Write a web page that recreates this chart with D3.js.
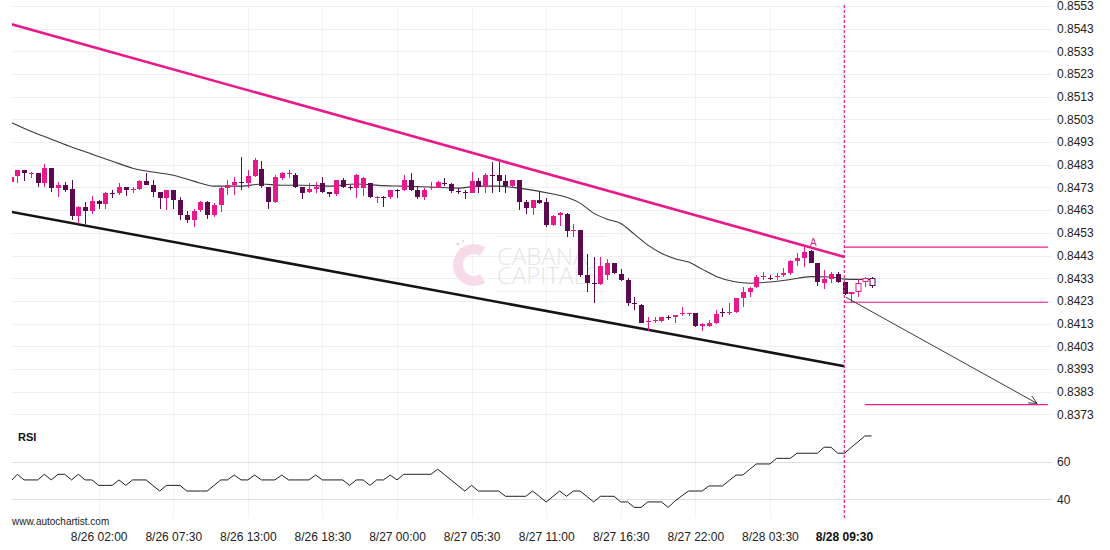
<!DOCTYPE html>
<html><head><meta charset="utf-8">
<script src="https://cdn.jsdelivr.net/npm/d3@7"></script>
<style>
body{margin:0;background:#fff}
svg{display:block}
text{font-family:"Liberation Sans",Arial,sans-serif}
.wm{font-family:"Open Sans",sans-serif;font-weight:300;font-size:24px;line-height:19px;color:#e6e6e6;margin:0;padding:0;white-space:pre-line}
</style>
</head><body>
<svg id="chart" width="1110" height="550"></svg>
<script>
// ---------------- DATA ----------------
// 30-minute candles, index -1 .. 126 (index 122 = 8/28 09:30, the signal bar)
const firstIndex = -1;
const opens = [0.84755,0.84781,0.84806,0.84789,0.84792,0.84750,0.84815,0.84728,0.84740,0.84723,
0.84604,0.84642,0.84627,0.84670,0.84655,0.84706,0.84704,0.84733,0.84718,0.84724,
0.84758,0.84740,0.84711,0.84684,0.84718,0.84674,0.84608,0.84586,0.84630,0.84667,
0.84608,0.84652,0.84728,0.84740,0.84755,0.84750,0.84780,0.84811,0.84733,0.84664,
0.84772,0.84789,0.84784,0.84730,0.84708,0.84723,0.84750,0.84711,0.84701,0.84762,
0.84733,0.84728,0.84726,0.84748,0.84684,0.84689,0.84686,0.84720,0.84718,0.84765,
0.84718,0.84689,0.84727,0.84728,0.84751,0.84745,0.84716,0.84709,0.84704,0.84758,
0.84730,0.84786,0.84784,0.84758,0.84736,0.84762,0.84667,0.84640,0.84674,0.84664,
0.84564,0.84608,0.84612,0.84537,0.84542,0.84344,0.84308,0.84303,0.84344,0.84395,
0.84348,0.84322,0.84220,0.84212,0.84135,0.84141,0.84142,0.84159,0.84157,0.84172,
0.84172,0.84175,0.84121,0.84120,0.84131,0.84181,0.84175,0.84182,0.84241,0.84270,
0.84292,0.84335,0.84333,0.84335,0.84344,0.84351,0.84407,0.84417,0.84451,0.84398,
0.84310,0.84325,0.84348,0.84314,0.84259,0.84270,0.84312,0.84332];
const highs = [0.84784,0.84806,0.84806,0.84799,0.84792,0.84833,0.84815,0.84752,0.84752,0.84765,
0.84648,0.84664,0.84692,0.84674,0.84711,0.84718,0.84750,0.84733,0.84733,0.84765,
0.84792,0.84765,0.84711,0.84721,0.84721,0.84689,0.84627,0.84637,0.84671,0.84670,
0.84660,0.84733,0.84762,0.84777,0.84865,0.84809,0.84858,0.84846,0.84733,0.84787,
0.84799,0.84809,0.84794,0.84733,0.84750,0.84755,0.84777,0.84711,0.84762,0.84770,
0.84740,0.84789,0.84774,0.84750,0.84692,0.84692,0.84721,0.84723,0.84784,0.84792,
0.84737,0.84726,0.84755,0.84758,0.84770,0.84750,0.84726,0.84721,0.84796,0.84770,
0.84792,0.84843,0.84843,0.84784,0.84765,0.84765,0.84674,0.84674,0.84708,0.84682,
0.84608,0.84620,0.84618,0.84571,0.84542,0.84435,0.84424,0.84424,0.84413,0.84395,
0.84369,0.84329,0.84248,0.84216,0.84157,0.84157,0.84160,0.84167,0.84167,0.84204,
0.84178,0.84176,0.84131,0.84145,0.84189,0.84197,0.84222,0.84241,0.84292,0.84292,
0.84344,0.84358,0.84344,0.84351,0.84373,0.84410,0.84439,0.84468,0.84454,0.84398,
0.84366,0.84358,0.84358,0.84314,0.84270,0.84325,0.84336,0.84336];
const lows = [0.84749,0.84749,0.84758,0.84770,0.84730,0.84730,0.84711,0.84686,0.84711,0.84586,
0.84568,0.84568,0.84615,0.84633,0.84633,0.84682,0.84696,0.84693,0.84704,0.84718,
0.84740,0.84689,0.84637,0.84630,0.84633,0.84586,0.84574,0.84556,0.84623,0.84589,
0.84598,0.84623,0.84696,0.84696,0.84721,0.84726,0.84777,0.84726,0.84634,0.84660,
0.84762,0.84772,0.84726,0.84677,0.84704,0.84706,0.84704,0.84686,0.84692,0.84728,
0.84718,0.84682,0.84692,0.84682,0.84662,0.84642,0.84677,0.84682,0.84715,0.84715,
0.84677,0.84674,0.84721,0.84726,0.84736,0.84706,0.84699,0.84677,0.84704,0.84706,
0.84704,0.84704,0.84711,0.84704,0.84733,0.84630,0.84612,0.84608,0.84655,0.84556,
0.84560,0.84560,0.84510,0.84510,0.84336,0.84270,0.84222,0.84300,0.84322,0.84348,
0.84318,0.84207,0.84189,0.84131,0.84098,0.84131,0.84138,0.84145,0.84131,0.84163,
0.84163,0.84116,0.84098,0.84116,0.84128,0.84157,0.84167,0.84175,0.84204,0.84248,
0.84289,0.84322,0.84322,0.84322,0.84336,0.84344,0.84383,0.84380,0.84395,0.84295,
0.84281,0.84310,0.84307,0.84256,0.84222,0.84248,0.84292,0.84289];
const closes = [0.84777,0.84806,0.84792,0.84793,0.84750,0.84815,0.84728,0.84740,0.84721,0.84604,
0.84642,0.84627,0.84670,0.84655,0.84706,0.84703,0.84733,0.84718,0.84723,0.84758,
0.84740,0.84711,0.84684,0.84718,0.84674,0.84608,0.84586,0.84627,0.84667,0.84608,
0.84652,0.84726,0.84740,0.84753,0.84749,0.84780,0.84850,0.84736,0.84664,0.84777,
0.84794,0.84793,0.84733,0.84706,0.84723,0.84733,0.84711,0.84701,0.84762,0.84733,
0.84726,0.84784,0.84770,0.84686,0.84689,0.84685,0.84718,0.84716,0.84765,0.84718,
0.84689,0.84721,0.84731,0.84755,0.84747,0.84715,0.84711,0.84705,0.84758,0.84730,
0.84784,0.84782,0.84758,0.84736,0.84762,0.84667,0.84640,0.84674,0.84660,0.84564,
0.84604,0.84618,0.84539,0.84542,0.84344,0.84310,0.84304,0.84383,0.84395,0.84351,
0.84322,0.84222,0.84216,0.84134,0.84141,0.84145,0.84157,0.84154,0.84167,0.84176,
0.84176,0.84120,0.84126,0.84131,0.84172,0.84176,0.84182,0.84241,0.84270,0.84289,
0.84336,0.84339,0.84328,0.84339,0.84351,0.84407,0.84417,0.84446,0.84398,0.84314,
0.84325,0.84347,0.84314,0.84259,0.84267,0.84307,0.84332,0.84295];
const hollowFrom = 123;   // bars after the signal bar are drawn hollow

const rsiValues = [49.5,53.3,50.3,50.3,50.3,53.3,50.3,53.3,53.3,50.3,
53.3,50.3,50.3,47.4,47.4,47.4,50.3,47.4,50.3,50.3,
50.3,47.3,44.4,47.4,47.4,47.4,44.4,44.4,44.4,44.4,
47.3,50.3,50.3,52.9,50.3,50.3,52.9,50.3,50.3,50.3,
52.9,50.3,50.3,50.3,50.3,52.9,50.3,50.3,50.3,50.3,
47.4,50.3,50.3,47.4,50.3,50.3,52.9,50.3,53.3,53.3,
53.3,53.3,53.3,56.0,53.1,50.2,47.3,44.4,47.4,44.4,
44.4,44.4,44.4,41.6,41.6,41.6,41.6,44.4,41.5,38.6,
41.5,44.4,41.6,44.4,44.4,41.5,38.6,41.6,41.6,41.6,
38.6,38.6,35.7,35.7,38.6,38.6,38.6,35.7,39.1,41.8,
44.4,44.4,44.4,47.1,47.1,47.1,50.0,52.9,52.9,55.9,
58.8,58.8,58.8,61.8,61.8,61.8,64.5,64.5,64.5,64.5,
67.7,67.7,64.5,64.5,67.6,70.6,73.7,73.7];

const maIndex  = [-1,2,5,8,11,14,17,20,23,26,29,33,36,39,42,46,50,54,57,61,65,68,71,74,79,81,83,85,87,89,91,93,95,97,99,101,103,106,108,111,114,117,120,122,124,126];
const maValues = [0.85018,0.84978,0.84943,0.84908,0.84877,0.84846,0.84815,0.84798,0.84784,0.84758,0.84736,0.84736,0.84745,0.84740,0.84740,0.84736,0.84745,0.84738,0.84736,0.84732,0.84727,0.84736,0.84736,0.84727,0.84701,0.84687,0.84661,0.84617,0.84590,0.84571,0.84524,0.84476,0.84440,0.84416,0.84401,0.84370,0.84339,0.84313,0.84308,0.84313,0.84324,0.84337,0.84335,0.84326,0.84325,0.84325];

const priceTicks = [0.8553,0.8543,0.8533,0.8523,0.8513,0.8503,0.8493,0.8483,0.8473,0.8463,0.8453,0.8443,0.8433,0.8423,0.8413,0.8403,0.8393,0.8383,0.8373];
const rsiTicks = [60,40];
const timeTickIndex  = [12,23,34,45,56,67,78,89,100,111];
const timeTickLabels = ["8/26 02:00","8/26 07:30","8/26 13:00","8/26 18:30","8/27 00:00","8/27 05:30","8/27 11:00","8/27 16:30","8/27 22:00","8/28 03:30"];
const signalIndex = 122;
const signalLabel = "8/28 09:30";

// pattern (descending channel) and forecast
const resistanceLine = [{i:-1, v:0.85451},{i:122, v:0.84424}];
const supportLine    = [{i:-1, v:0.84623},{i:122, v:0.83942}];
const levelLines = [
  {from:122, to:152, v:0.84467},
  {from:122, to:152, v:0.84224},
  {from:125, to:152, v:0.83773}
];
const forecastArrow = [{i:122.2, v:0.84246},{i:150.4, v:0.83778}];
const pointLabel = {text:"A", i:117.4, v:0.84474};
const watermarkText = "CABANA\nCAPITALS";

// ---------------- CHART ----------------
const PINK = "#e8198b", DARK = "#5c0a50", LEVEL = "#ee1a8e";
const svg = d3.select("#chart");

const x  = d3.scaleLinear().domain([0, 122]).range([17.3, 844.5]);
const y  = d3.scaleLinear().domain([0.8553, 0.8373]).range([6, 414.3]);
const yr = d3.scaleLinear().domain([60, 40]).range([461.7, 499.3]);

const defs = svg.append("defs");
defs.append("clipPath").attr("id","clipMain").append("rect").attr("x",12).attr("y",0).attr("width",1040).attr("height",425);
defs.append("clipPath").attr("id","clipRsi").append("rect").attr("x",12).attr("y",425).attr("width",1040).attr("height",100);

// grid
const grid = svg.append("g").attr("shape-rendering","crispEdges");
priceTicks.forEach(d=>grid.append("line").attr("x1",12).attr("x2",1052)
  .attr("y1",Math.round(y(d))+0.5).attr("y2",Math.round(y(d))+0.5).attr("stroke","#efefef"));
timeTickIndex.forEach(d=>grid.append("line").attr("x1",Math.round(x(d))+0.5).attr("x2",Math.round(x(d))+0.5)
  .attr("y1",6).attr("y2",518).attr("stroke","#f3f3f3"));
rsiTicks.forEach(d=>grid.append("line").attr("x1",12).attr("x2",1052)
  .attr("y1",Math.round(yr(d))+0.5).attr("y2",Math.round(yr(d))+0.5).attr("stroke","#dedede"));

// watermark
const wm = svg.append("g");
wm.append("line").attr("x1",497).attr("x2",605).attr("y1",236.5).attr("y2",236.5).attr("stroke","#f0f0f0");
wm.append("line").attr("x1",497).attr("x2",605).attr("y1",291.5).attr("y2",291.5).attr("stroke","#f0f0f0");
wm.append("path").attr("transform","translate(474,265)")
  .attr("d", d3.arc().innerRadius(11).outerRadius(21).startAngle(Math.PI*0.82).endAngle(Math.PI*2.18)())
  .attr("fill","#f8dbe9");
[[458,244,1.6],[463,241,1.2],[461,249,1.2]].forEach(p=>wm.append("circle").attr("cx",p[0]).attr("cy",p[1]).attr("r",p[2]).attr("fill","#f6d3e3"));
wm.append("foreignObject").attr("x",497).attr("y",246).attr("width",140).attr("height",44)
  .append("xhtml:div").attr("class","wm").text(watermarkText);

const main = svg.append("g").attr("clip-path","url(#clipMain)");

// moving average
const maData = maIndex.map((d,k)=>({i:d, v:maValues[k]}));
main.append("path").datum(maData)
  .attr("d", d3.line().x(d=>x(d.i)).y(d=>y(d.v)).curve(d3.curveMonotoneX))
  .attr("fill","none").attr("stroke","#3a3a3a").attr("stroke-width",1.1);

// channel lines
const lineGen = d3.line().x(d=>x(d.i)).y(d=>y(d.v));
main.append("path").datum(resistanceLine).attr("d",lineGen).attr("stroke",PINK).attr("stroke-width",2.6).attr("fill","none");
main.append("path").datum(supportLine).attr("d",lineGen).attr("stroke","#141414").attr("stroke-width",2.6).attr("fill","none");

// candles
const candles = opens.map((o,k)=>({i:k+firstIndex, o, h:highs[k], l:lows[k], c:closes[k]}));
const cg = main.append("g");
candles.forEach(d=>{
  const cx = Math.round(x(d.i)) + 0.5;
  const col = d.c >= d.o ? PINK : DARK;
  const top = Math.round(y(Math.max(d.o,d.c)));
  let bot = Math.round(y(Math.min(d.o,d.c)));
  if (bot - top < 1) bot = top + 1;
  const hy = Math.round(y(d.h)), ly = Math.round(y(d.l));
  if (d.i >= hollowFrom) {
    cg.append("line").attr("x1",cx).attr("x2",cx).attr("y1",hy).attr("y2",top).attr("stroke",col);
    cg.append("line").attr("x1",cx).attr("x2",cx).attr("y1",bot).attr("y2",ly).attr("stroke",col);
    cg.append("rect").attr("x",cx-2.5).attr("y",top+0.5).attr("width",5).attr("height",Math.max(1,bot-top-1))
      .attr("fill","#fff").attr("stroke",col).attr("stroke-width",1);
  } else {
    cg.append("line").attr("x1",cx).attr("x2",cx).attr("y1",hy).attr("y2",ly).attr("stroke",col);
    cg.append("rect").attr("x",cx-2.5).attr("y",top).attr("width",5).attr("height",bot-top).attr("fill",col);
  }
});

// level lines
const lv = svg.append("g").attr("clip-path","url(#clipMain)");
levelLines.forEach(d=>{
  lv.append("line").attr("x1",x(d.from)).attr("x2",x(d.to)).attr("y1",y(d.v)).attr("y2",y(d.v))
    .attr("stroke",LEVEL).attr("stroke-width",1.2);
});

// forecast arrow
const ax0 = x(forecastArrow[0].i), ay0 = y(forecastArrow[0].v);
const ax1 = x(forecastArrow[1].i), ay1 = y(forecastArrow[1].v);
const ang = Math.atan2(ay1-ay0, ax1-ax0), hl = 9, ha = 0.45;
lv.append("path")
  .attr("d", `M${ax0},${ay0}L${ax1},${ay1}M${ax1-hl*Math.cos(ang-ha)},${ay1-hl*Math.sin(ang-ha)}L${ax1},${ay1}L${ax1-hl*Math.cos(ang+ha)},${ay1-hl*Math.sin(ang+ha)}`)
  .attr("fill","none").attr("stroke","#3c3c3c").attr("stroke-width",1);

// point label
svg.append("text").attr("x",x(pointLabel.i)).attr("y",y(pointLabel.v)).attr("text-anchor","middle")
  .attr("font-size",10).attr("fill",PINK).text(pointLabel.text);

// RSI
const rsiG = svg.append("g").attr("clip-path","url(#clipRsi)");
rsiG.append("path").datum(rsiValues)
  .attr("d", d3.line().x((d,k)=>x(k+firstIndex)).y(d=>yr(d)))
  .attr("fill","none").attr("stroke","#1e1e1e").attr("stroke-width",1);
svg.append("text").attr("x",18).attr("y",441).attr("font-size",11).attr("font-weight","bold").attr("fill","#111").text("RSI");

// signal dashed line
svg.append("line").attr("x1",x(signalIndex)-0.2).attr("x2",x(signalIndex)-0.2).attr("y1",5).attr("y2",520)
  .attr("stroke",LEVEL).attr("stroke-width",1.2).attr("stroke-dasharray","3,2");

// axes
const yAxis = svg.append("g").attr("transform","translate(1057,0)")
  .call(d3.axisRight(y).tickValues(priceTicks).tickFormat(d3.format(".4f")).tickSize(0).tickPadding(0));
const rAxis = svg.append("g").attr("transform","translate(1057,0)")
  .call(d3.axisRight(yr).tickValues(rsiTicks).tickFormat(d3.format("d")).tickSize(0).tickPadding(0));
const xAxis = svg.append("g").attr("transform","translate(0,532)")
  .call(d3.axisBottom(x).tickValues(timeTickIndex).tickFormat((d,k)=>timeTickLabels[k]).tickSize(0).tickPadding(0));
[yAxis,rAxis,xAxis].forEach(g=>{
  g.select(".domain").remove();
  g.selectAll("text").attr("font-family","'Liberation Sans',Arial,sans-serif").attr("font-size",12).attr("fill","#222");
});
svg.append("text").attr("x",x(signalIndex)).attr("y",540.5).attr("text-anchor","middle")
  .attr("font-size",12).attr("font-weight","bold").attr("fill","#111").text(signalLabel);

svg.append("text").attr("x",12).attr("y",525).attr("font-size",10).attr("fill","#222").text("www.autochartist.com");
</script>
</body></html>
